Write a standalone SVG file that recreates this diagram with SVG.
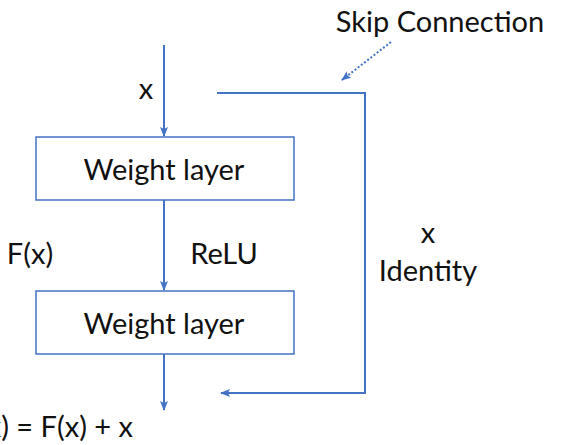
<svg xmlns="http://www.w3.org/2000/svg" width="564" height="445" viewBox="0 0 564 445">
<style>
text{font-family:Lato,"Open Sans",sans-serif;font-size:29px;fill:#111}
.box{fill:#fff;stroke:#4472c4;stroke-width:1.5}
.ln{fill:none;stroke:#4472c4;stroke-width:2}
</style>
<defs>
<marker id="ah" markerWidth="10" markerHeight="8" refX="9" refY="4" orient="auto" markerUnits="userSpaceOnUse">
<path d="M0,0 L10,4 L0,8 L2,4 Z" fill="#4472c4"/>
</marker>
</defs>
<rect width="564" height="445" fill="#fff"/>
<g id="connectors">
<line class="ln" x1="164" y1="45" x2="164" y2="136" marker-end="url(#ah)"/>
<line class="ln" x1="164" y1="200" x2="164" y2="290" marker-end="url(#ah)"/>
<line class="ln" x1="164" y1="354" x2="164" y2="410" marker-end="url(#ah)"/>
<polyline class="ln" points="217,93 365,93 365,393 221,393" marker-end="url(#ah)"/>
<line x1="391" y1="42" x2="342" y2="80" stroke="#4472c4" stroke-width="2" stroke-dasharray="2,2" marker-end="url(#ah)"/>
</g>
<g id="box1"><rect class="box" x="36" y="137" width="258" height="63"/><text x="164" y="180" text-anchor="middle">Weight layer</text></g>
<g id="box2"><rect class="box" x="36" y="291" width="258" height="63"/><text x="164" y="334" text-anchor="middle">Weight layer</text></g>
<g id="labels">
<text x="440" y="32" text-anchor="middle">Skip Connection</text>
<text x="146" y="99" text-anchor="middle">x</text>
<text x="30" y="264" text-anchor="middle">F(x)</text>
<text x="224" y="264" text-anchor="middle">ReLU</text>
<text x="428" y="243" text-anchor="middle">x</text>
<text x="428" y="281" text-anchor="middle">Identity</text>
<text x="133" y="437" text-anchor="end">H(x) = F(x) + x</text>
</g>
</svg>
